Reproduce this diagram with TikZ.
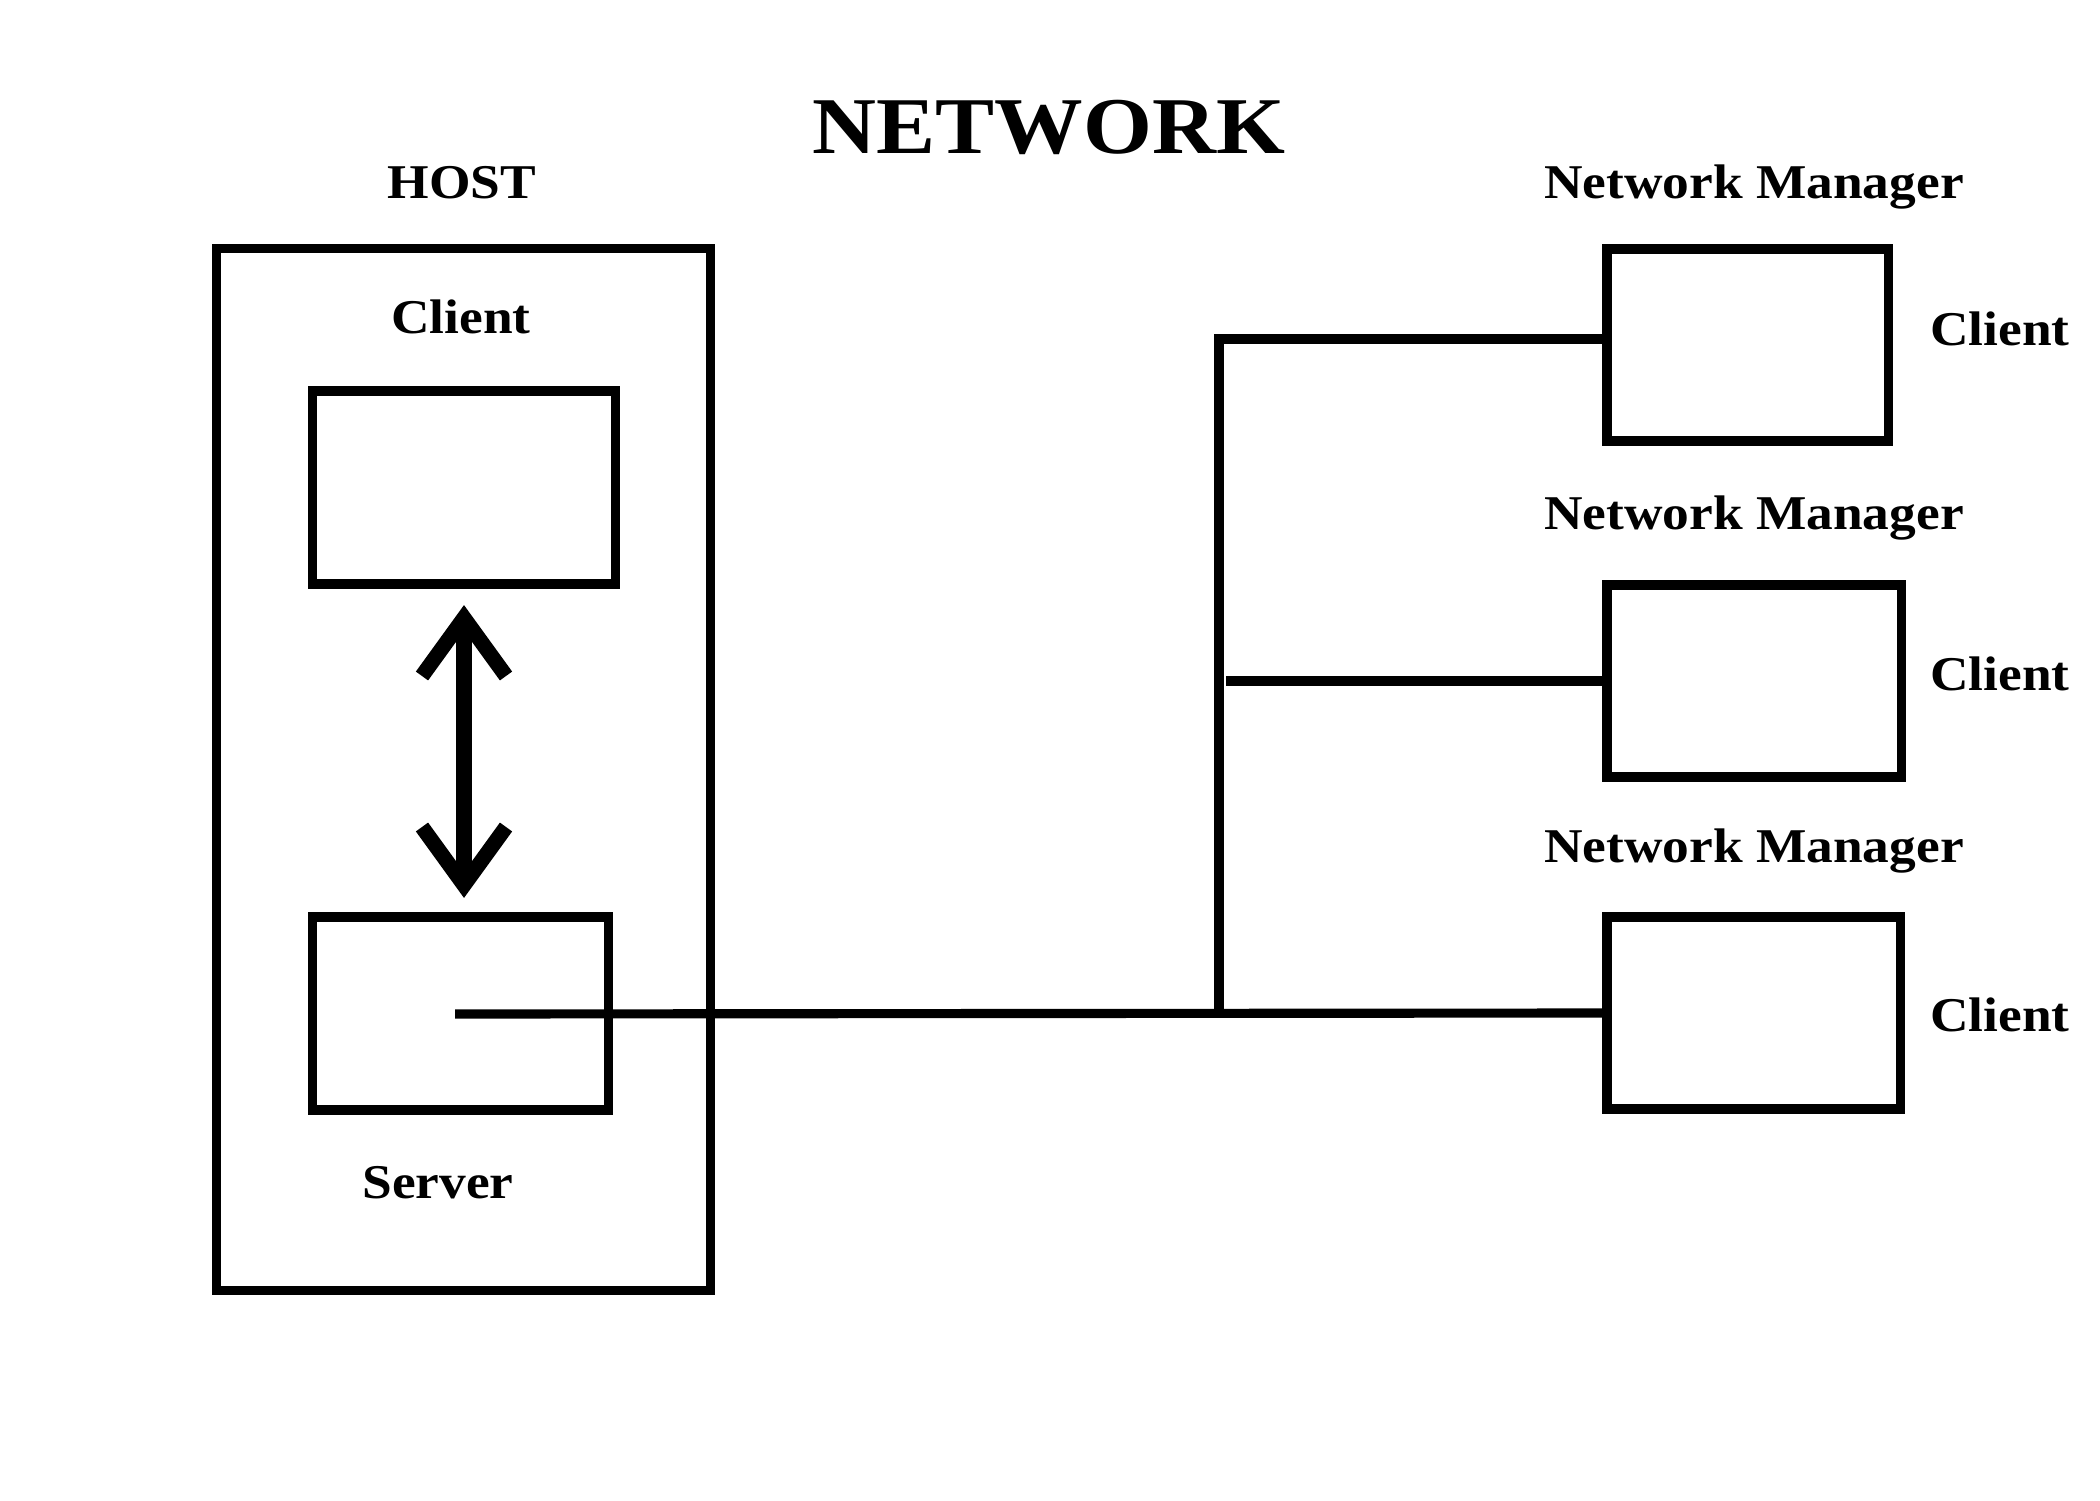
\documentclass[tikz,border=0pt]{standalone}
\usepackage{fontspec}
\setmainfont{Liberation Serif}[FakeStretch=1.1]
\usetikzlibrary{arrows.meta}
\begin{document}
\begin{tikzpicture}[x=0.01cm,y=-0.01cm,
  box/.style={draw=black,line width=2.6pt,rectangle,inner sep=0pt,outer sep=0pt},
  wire/.style={draw=black,line width=2.6pt},
  lbl/.style={font=\bfseries\fontsize{13.8}{16}\selectfont,inner sep=0pt,anchor=base},
  title/.style={font=\bfseries\fontsize{22.9}{26}\selectfont,inner sep=0pt,anchor=base},
  dblarrow/.style={draw=black,line width=4.3pt,
    {Straight Barb[length=5.8mm,width=8.4mm]}-{Straight Barb[length=5.8mm,width=8.4mm]}}
]
\useasboundingbox[fill=white] (0,0) rectangle (2100,1500);

% texts
\node[title] (tnet) at (1049,153) {NETWORK};
\node[lbl] (thost) at (462,199) {HOST};
\node[lbl] (tclient) at (461,333) {Client};
\node[lbl] (tserver) at (438,1198) {Server};
\node[lbl] (tnm1) at (1754,199) {Network Manager};
\node[lbl] (tnm2) at (1754,529) {Network Manager};
\node[lbl] (tnm3) at (1754,862) {Network Manager};
\node[lbl] (tc1) at (2000,345) {Client};
\node[lbl] (tc2) at (2000,690) {Client};
\node[lbl] (tc3) at (2000,1031) {Client};

% boxes
\node[box,minimum width=49.3mm,minimum height=104.1mm] (host) at (463.5,769.5) {};
\node[box,minimum width=30.2mm,minimum height=19.3mm] (client) at (464,487.5) {};
\node[box,minimum width=29.5mm,minimum height=19.3mm] (server) at (460.5,1013.5) {};
\node[box,minimum width=28.1mm,minimum height=19.2mm] (b1) at (1747.5,345) {};
\node[box,minimum width=29.4mm,minimum height=19.2mm] (b2) at (1754,681) {};
\node[box,minimum width=29.3mm,minimum height=19.2mm] (b3) at (1753.5,1013) {};

% arrow between client and server
\draw[dblarrow,shorten <=2.1mm,shorten >=1.9mm] (client.south) -- (client.south |- server.north);

% network wiring
\coordinate (srv) at (455,1014);
\coordinate (j) at (1219,1013);
\coordinate (bt) at (1219,339);
\coordinate (mb) at (1226,681);
\draw[wire] (srv) -- (b3.west);
\draw[wire,line join=miter] (j) -- (bt) -- (bt -| b1.west);
\draw[wire] (mb) -- (b2.west);
\end{tikzpicture}
\end{document}
